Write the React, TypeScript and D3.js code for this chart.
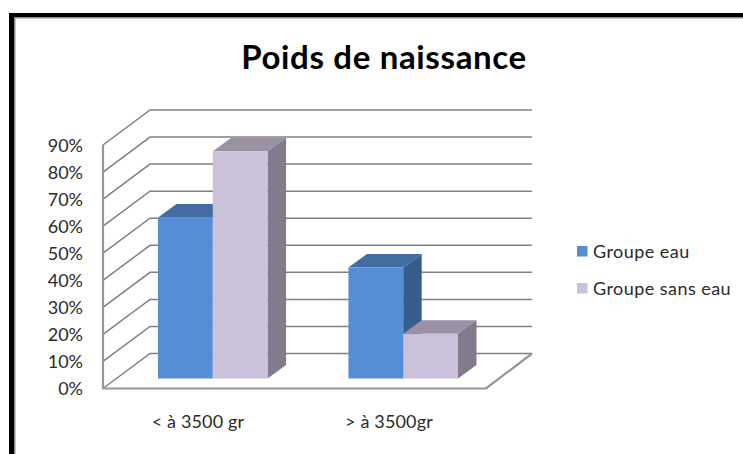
import React from "react";
import * as d3 from "d3";

const categories = ["< à 3500 gr", "> à 3500gr"];
const seriesNames = ["Groupe eau", "Groupe sans eau"];
const groupeEau = [0.595, 0.41];
const groupeSansEau = [0.84, 0.165];
const ticks = [0, 0.1, 0.2, 0.3, 0.4, 0.5, 0.6, 0.7, 0.8, 0.9];
const colors = [
  { front: "#558ed5", top: "#426ca2", side: "#375d8b" },
  { front: "#ccc1da", top: "#9b91a4", side: "#837b8d" },
];

const FONT = "Lato, Carlito, 'Open Sans', sans-serif";
const W = 743, H = 454;
const frontLeft = 103, frontRight = 486, floorY = 388.5;
const backDx = 47, backDy = -35;
const barDx = 18.5, barDy = -13.5, barInset = -10;

const y = d3.scaleLinear().domain([0, 0.9]).range([floorY, 145]);
const x0 = d3.scaleBand<string>().domain(categories).range([158, 458]).paddingInner(0.4246).paddingOuter(0);
const x1 = d3.scaleBand<string>().domain(seriesNames).range([0, x0.bandwidth()]);
const line = d3.line();
const poly = (pts: [number, number][]) => line(pts)! + "Z";

export default function App() {
  const series = [groupeEau, groupeSansEau];
  const grid = "#808080";
  return (
    <svg width={W} height={H} viewBox={`0 0 ${W} ${H}`} style={{ position: "absolute", left: 0, top: 0, background: "#fff" }}>
      <rect x={9} y={13} width={W + 20} height={H + 20} fill="#000" />
      <rect x={14} y={17} width={W + 20} height={H + 20} fill="#8c8c8c" />
      <rect x={15.5} y={18.5} width={W + 20} height={H + 20} fill="#fff" />
      <text x={384} y={68.5} textAnchor="middle" fontFamily={FONT} fontWeight={700} fontSize={33} letterSpacing={0.65} fill="#000">Poids de naissance</text>

      {ticks.map((t) => (
        <path key={t} d={line([[frontLeft, y(t)], [frontLeft + backDx, y(t) + backDy], [frontRight + backDx - 1, y(t) + backDy]])!} fill="none" stroke={grid} strokeWidth={1.5} />
      ))}
      <path d={line([[frontLeft, y(0.9)], [frontLeft, floorY], [frontRight, floorY], [frontRight + backDx - 1, floorY + backDy]])!} fill="none" stroke="#969696" strokeWidth={2.2} />

      {ticks.map((t) => (
        <text key={t} x={83} y={y(t) + 6.5} textAnchor="end" fontFamily={FONT} fontSize={18} fill="#2b2b2b">{`${Math.round(t * 100)}%`}</text>
      ))}

      {categories.map((c, ci) =>
        [...series.keys()].map((si) => {
          const xl = x0(c)! + x1(seriesNames[si])!;
          const xr = xl + x1.bandwidth();
          const top = y(series[si][ci]) + barInset;
          const base = floorY + barInset;
          const col = colors[si];
          return (
            <g key={c + si}>
              <path d={poly([[xl, top], [xl + barDx, top + barDy], [xr + barDx, top + barDy], [xr, top]])} fill={col.top} />
              <path d={poly([[xr, top], [xr + barDx, top + barDy], [xr + barDx, base + barDy], [xr, base]])} fill={col.side} />
              <rect x={xl} y={top} width={xr - xl} height={base - top} fill={col.front} />
            </g>
          );
        })
      )}

      {categories.map((c, i) => (
        <text key={c} x={i === 0 ? 198 : 389} y={428} textAnchor="middle" fontFamily={FONT} fontSize={18} letterSpacing={0.15} fill="#2b2b2b">{c}</text>
      ))}

      {seriesNames.map((s, i) => (
        <g key={s}>
          <rect x={577} y={i === 0 ? 246 : 283} width={10.5} height={10.5} fill={colors[i].front} />
          <text x={593} y={i === 0 ? 258 : 294.5} fontFamily={FONT} fontSize={18} letterSpacing={0.45} fill="#2b2b2b">{s}</text>
        </g>
      ))}
    </svg>
  );
}
